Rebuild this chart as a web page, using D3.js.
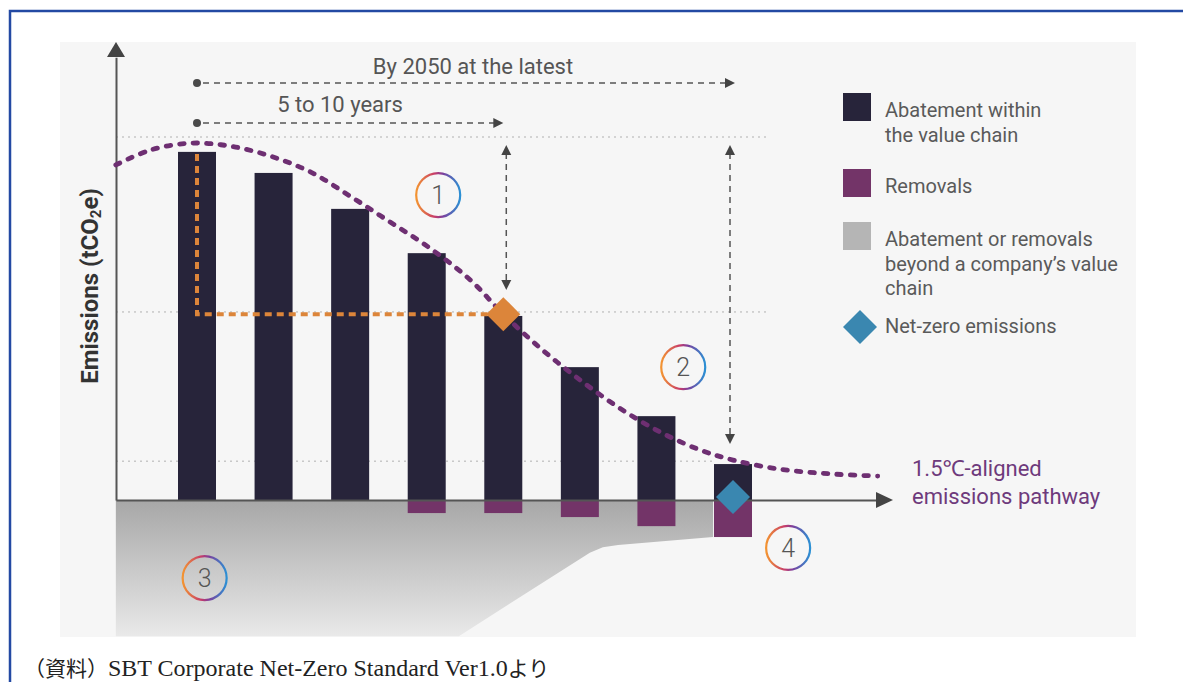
<!DOCTYPE html>
<html>
<head>
<meta charset="utf-8">
<script src="https://cdn.jsdelivr.net/npm/d3@7.9.0/dist/d3.min.js"></script>
<style>
  body { margin: 0; background: #fff; }
  svg { display: block; font-family: Roboto, "Noto Sans", sans-serif; }
</style>
</head>
<body>
<svg id="chart" width="1183" height="682"></svg>
<script>
// periods (bar index along the time axis)
const periods = [0, 1, 2, 3, 4, 5, 6, 7];
// abatement within the value chain (remaining emissions, arbitrary units)
const abatement = [95.9, 90.1, 80.2, 68.0, 50.7, 36.6, 23.1, 9.9];
// removals (negative side)
const removals = [0, 0, 0, -3.6, -3.6, -4.7, -7.2, -10.2];
// 1.5C-aligned pathway
const pathwayX = [-1.06, -0.61, -0.09, 0.43, 0.95, 1.48, 2.0, 2.52, 3.04, 3.57, 4.0, 4.48, 5.0, 5.52, 6.05, 6.57, 7.0, 7.61, 8.27, 8.89];
const pathwayY = [92.3, 96.4, 98.3, 97.5, 94.8, 90.4, 83.7, 76.6, 69.4, 60.6, 51.2, 41.9, 33.1, 25.3, 18.7, 13.8, 11.0, 8.5, 7.2, 6.6];
// abatement / removals beyond the value chain (lower edge of the grey band)
const beyondX = [-1.06, 3.42, 5.13, 5.3, 5.5, 6.74];
const beyondY = [-37.5, -37.5, -14.5, -13.0, -12.4, -10.2];
// guide levels: base year, near-term target, long-term target
const guideLevels = [100, 51.8, 10.7];
const legendLabels = [
  ["Abatement within", "the value chain"],
  ["Removals"],
  ["Abatement or removals", "beyond a company\u2019s value", "chain"],
  ["Net-zero emissions"]
];
const stepLabels = ["1", "2", "3", "4"];

const svg = d3.select('#chart');
const x = d3.scaleLinear().domain([0, 7]).range([197, 733]);
const y = d3.scaleLinear().domain([0, 100]).range([500, 137]);
const barW = 38;

const defs = svg.append('defs');
const grey = defs.append('linearGradient').attr('id', 'greyGrad')
  .attr('gradientUnits', 'userSpaceOnUse')
  .attr('x1', 0).attr('y1', y(0)).attr('x2', 0).attr('y2', y(-37.5));
grey.append('stop').attr('offset', 0).attr('stop-color', '#a7a7a7');
grey.append('stop').attr('offset', 1).attr('stop-color', '#e9e9e9');

const ring = defs.append('linearGradient').attr('id', 'ringGrad')
  .attr('x1', 0).attr('y1', 0).attr('x2', 1).attr('y2', 0);
ring.append('stop').attr('offset', 0).attr('stop-color', '#f39431');
ring.append('stop').attr('offset', 0.42).attr('stop-color', '#c73c6a');
ring.append('stop').attr('offset', 0.6).attr('stop-color', '#7d3f9c');
ring.append('stop').attr('offset', 1).attr('stop-color', '#2c90d4');

// frame + panel
svg.append('rect').attr('x', 10).attr('y', 11).attr('width', 1300).attr('height', 800)
  .attr('fill', 'none').attr('stroke', '#2349a3').attr('stroke-width', 2.5);
svg.append('rect').attr('x', 60).attr('y', 42).attr('width', 1076).attr('height', 595)
  .attr('fill', '#f6f6f6');

// grey band beyond value chain
const beyondPts = beyondX.map((d, i) => [d, beyondY[i]]);
const area = d3.area()
  .x(d => x(d[0]))
  .y0(y(0))
  .y1(d => y(d[1]));
svg.append('path').attr('d', area(beyondPts)).attr('fill', 'url(#greyGrad)');

// guide lines
const guideEnds = [770, 770, 713];
guideLevels.forEach((v, i) => {
  svg.append('line')
    .attr('x1', 116).attr('x2', guideEnds[i])
    .attr('y1', y(v)).attr('y2', y(v))
    .attr('stroke', '#b0b0b0').attr('stroke-width', 1)
    .attr('stroke-dasharray', '2 4');
});

// bars
svg.selectAll('.bar').data(periods).join('rect')
  .attr('class', 'bar')
  .attr('x', d => x(d) - barW / 2)
  .attr('width', barW)
  .attr('y', d => y(abatement[d]))
  .attr('height', d => y(0) - y(abatement[d]))
  .attr('fill', '#27243a');

svg.selectAll('.rem').data(periods.filter(d => removals[d] < 0)).join('rect')
  .attr('class', 'rem')
  .attr('x', d => x(d) - barW / 2)
  .attr('width', barW)
  .attr('y', y(0))
  .attr('height', d => y(removals[d]) - y(0))
  .attr('fill', '#733468');

// axes (no ticks, just lines with arrowheads)
const yAxisScale = d3.scaleLinear().domain([0, 122]).range([y(0), y(122)]);
svg.append('g').attr('transform', 'translate(116,0)')
  .call(d3.axisLeft(yAxisScale).tickValues([]).tickSizeOuter(0))
  .select('.domain').attr('stroke', '#555').attr('stroke-width', 2);
const xAxisScale = d3.scaleLinear().domain([-1.06, 8.9]).range([116, x(8.9)]);
svg.append('g').attr('transform', `translate(0,${y(0)})`)
  .call(d3.axisBottom(xAxisScale).tickValues([]).tickSizeOuter(0))
  .select('.domain').attr('stroke', '#555').attr('stroke-width', 2);
svg.append('path').attr('d', `M116,42 L107,57 L125,57 Z`).attr('fill', '#444');
svg.append('path').attr('d', `M893,${y(0)} L876,${y(0) - 8} L876,${y(0) + 8} Z`).attr('fill', '#444');

// y label
svg.append('text')
  .attr('transform', 'translate(98,286) rotate(-90)')
  .attr('text-anchor', 'middle')
  .attr('font-size', 24).attr('font-weight', 'bold').attr('fill', '#333')
  .html('Emissions (tCO<tspan font-size="15" dy="3">2</tspan><tspan dy="-3">e)</tspan>');

// orange near-term path
const near = 4;
svg.append('path')
  .attr('d', `M${x(0)},${y(abatement[0]) + 2} V${y(pathwayY[10])} H${x(near) - 12}`)
  .attr('fill', 'none').attr('stroke', '#dc853a').attr('stroke-width', 4)
  .attr('stroke-dasharray', '7 5');

// pathway
const line = d3.line().x(d => x(d[0])).y(d => y(d[1])).curve(d3.curveCatmullRom);
svg.append('path')
  .attr('d', line(pathwayX.map((d, i) => [d, pathwayY[i]])))
  .attr('fill', 'none').attr('stroke', '#6e2f72').attr('stroke-width', 4.8)
  .attr('stroke-linecap', 'round').attr('stroke-dasharray', '4.5 9');

// diamonds
const diamond = (cx, cy, r) => `M${cx},${cy - r} L${cx + r},${cy} L${cx},${cy + r} L${cx - r},${cy} Z`;
svg.append('path').attr('d', diamond(x(near), y(pathwayY[10]), 17)).attr('fill', '#dc853a');
svg.append('path').attr('d', diamond(x(7), y(0.8), 17)).attr('fill', '#3a87b0');

// dashed timeline arrows
function hArrow(x1, x2, yy) {
  svg.append('circle').attr('cx', x1).attr('cy', yy).attr('r', 4).attr('fill', '#4a4a4a');
  svg.append('line').attr('x1', x1 + 6).attr('x2', x2 - 8).attr('y1', yy).attr('y2', yy)
    .attr('stroke', '#555').attr('stroke-width', 1.5).attr('stroke-dasharray', '6 5');
  svg.append('path').attr('d', `M${x2},${yy} L${x2 - 10},${yy - 5} L${x2 - 10},${yy + 5} Z`).attr('fill', '#444');
}
function vArrow(xx, y1, y2) {
  svg.append('line').attr('x1', xx).attr('x2', xx).attr('y1', y1 + 8).attr('y2', y2 - 8)
    .attr('stroke', '#555').attr('stroke-width', 1.5).attr('stroke-dasharray', '6 5');
  svg.append('path').attr('d', `M${xx},${y1} L${xx - 5},${y1 + 10} L${xx + 5},${y1 + 10} Z`).attr('fill', '#444');
  svg.append('path').attr('d', `M${xx},${y2} L${xx - 5},${y2 - 10} L${xx + 5},${y2 - 10} Z`).attr('fill', '#444');
}
hArrow(x(0), x(7) + 2, 83);
hArrow(x(0), x(4), 123);
vArrow(x(4) + 3, 145, 290);
vArrow(x(7) - 3, 145, 444);

svg.append('text').attr('x', 473).attr('y', 74).attr('text-anchor', 'middle')
  .attr('font-size', 22).attr('fill', '#555').text('By 2050 at the latest');
svg.append('text').attr('x', 340).attr('y', 112).attr('text-anchor', 'middle')
  .attr('font-size', 22).attr('fill', '#555').text('5 to 10 years');

// numbered steps
const stepPos = [[x(3.15), y(84.0)], [x(6.35), y(36.6)], [x(0.1), y(-21.5)], [x(7.72), y(-13.2)]];
stepLabels.forEach((t, i) => {
  const [cx, cy] = stepPos[i];
  svg.append('circle').attr('cx', cx).attr('cy', cy).attr('r', 22)
    .attr('fill', 'none').attr('stroke', 'url(#ringGrad)').attr('stroke-width', 2.2);
  svg.append('text').attr('x', cx).attr('y', cy + 9).attr('text-anchor', 'middle')
    .attr('font-size', 25).attr('font-weight', 300).attr('fill', '#555').text(t);
});

// pathway label
svg.append('text').attr('x', 912).attr('y', 476).attr('font-size', 22).attr('fill', '#6e3a7c').text('1.5\u2103-aligned');
svg.append('text').attr('x', 912).attr('y', 504).attr('font-size', 22).attr('fill', '#6e3a7c').text('emissions pathway');

// legend
const legendColors = ['#27243a', '#733468', '#b5b5b5', '#3a87b0'];
const legendTop = [93, 169, 222, 312];
legendLabels.forEach((lines, i) => {
  const g = svg.append('g').attr('transform', `translate(843,${legendTop[i]})`);
  if (i === 3) {
    g.append('path').attr('d', diamond(17, 15, 17)).attr('fill', legendColors[i]);
  } else {
    g.append('rect').attr('width', 28).attr('height', 28).attr('fill', legendColors[i]);
  }
  lines.forEach((l, j) => {
    g.append('text').attr('x', 42).attr('y', (i === 3 ? 21 : 24) + j * 24.5)
      .attr('font-size', 20).attr('fill', '#5a5a5a').text(l);
  });
});

// source note
const note = svg.append('text').attr('x', 24).attr('y', 676)
  .attr('font-family', '"Liberation Serif", "Noto Sans CJK JP", serif')
  .attr('fill', '#222');
note.append('tspan').attr('font-size', 21).attr('font-family', '"Noto Sans CJK JP", serif').text('（資料）');
note.append('tspan').attr('font-size', 24).text('SBT Corporate Net-Zero Standard Ver1.0');
note.append('tspan').attr('font-size', 21).attr('font-family', '"Noto Sans CJK JP", serif').text('より');
</script>
</body>
</html>
